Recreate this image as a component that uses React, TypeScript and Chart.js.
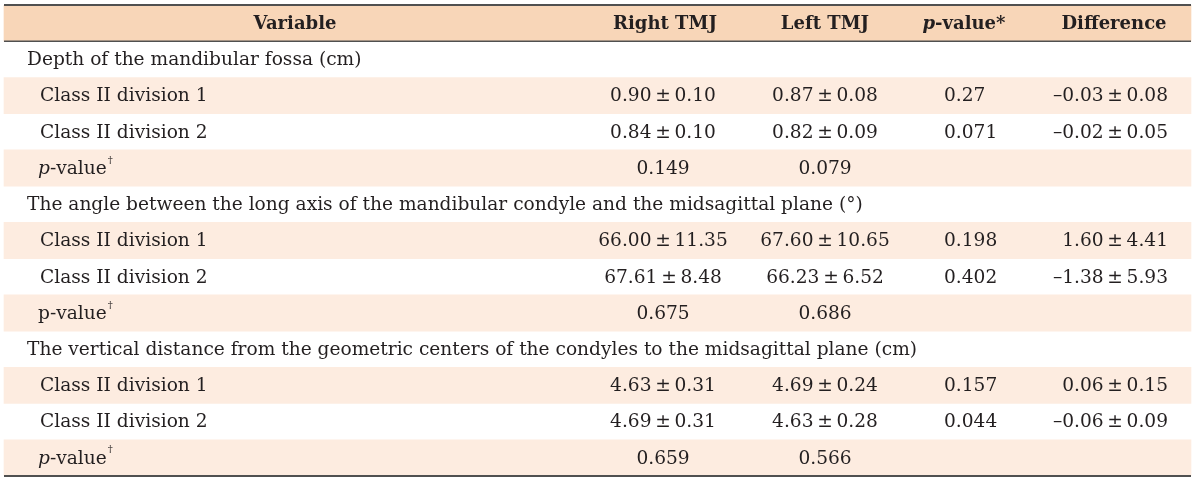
import React, { useEffect, useRef } from "react";
import { Chart, registerables } from "chart.js";

Chart.register(...registerables);

// ---- data ----
const headers = ["Variable", "Right TMJ", "Left TMJ", "_p_-value*", "Difference"];

// row kinds: "section" (group title), "group" (sub-row), "pv" (p-value row)
const rowKinds = [
  "section", "group", "group", "pv",
  "section", "group", "group", "pv",
  "section", "group", "group", "pv",
];
const variables = [
  "Depth of the mandibular fossa (cm)",
  "Class II division 1",
  "Class II division 2",
  "_p_-value^†",
  "The angle between the long axis of the mandibular condyle and the midsagittal plane (°)",
  "Class II division 1",
  "Class II division 2",
  "p-value^†",
  "The vertical distance from the geometric centers of the condyles to the midsagittal plane (cm)",
  "Class II division 1",
  "Class II division 2",
  "_p_-value^†",
];
const rightTMJ = ["", "0.90 ± 0.10", "0.84 ± 0.10", "0.149", "", "66.00 ± 11.35", "67.61 ± 8.48", "0.675", "", "4.63 ± 0.31", "4.69 ± 0.31", "0.659"];
const leftTMJ = ["", "0.87 ± 0.08", "0.82 ± 0.09", "0.079", "", "67.60 ± 10.65", "66.23 ± 6.52", "0.686", "", "4.69 ± 0.24", "4.63 ± 0.28", "0.566"];
const pValues = ["", "0.27", "0.071", "", "", "0.198", "0.402", "", "", "0.157", "0.044", ""];
const differences = ["", "–0.03 ± 0.08", "–0.02 ± 0.05", "", "", "1.60 ± 4.41", "–1.38 ± 5.93", "", "", "0.06 ± 0.15", "–0.06 ± 0.09", ""];

// ---- styles ----
const FONT = "'DejaVu Serif', serif";
const FS = 18.6;
const HFS = 18;
const TEXT = "#231f20";
const HEADER_BG = "#f8d6b8";
const SHADE_BG = "#fdece0";
const LINE = "#505050";
const BAND = [4, 1191];

type Seg = { t: string; it: boolean; sup: boolean };
function parse(s: string): Seg[] {
  const out: Seg[] = [];
  let it = false;
  let buf = "";
  let i = 0;
  const flush = (sup = false) => {
    if (buf) out.push({ t: buf, it, sup });
    buf = "";
  };
  while (i < s.length) {
    const c = s[i];
    if (c === "_") {
      flush();
      it = !it;
      i++;
    } else if (c === "^") {
      flush();
      buf = s.slice(i + 1);
      flush(true);
      i = s.length;
    } else {
      buf += c;
      i++;
    }
  }
  flush();
  return out;
}

function fontFor(seg: Seg, bold: boolean) {
  const size = seg.sup ? 10 : bold ? HFS : FS;
  return `${seg.it ? "italic " : ""}${bold ? "bold " : ""}${size}px ${FONT}`;
}

function drawRich(ctx: CanvasRenderingContext2D, raw: string, x: number, y: number, align: "left" | "center" | "right", bold: boolean) {
  const s = raw.replace(/ ± /g, "\u2009±\u2009");
  const segs = parse(s);
  let w = 0;
  const widths = segs.map((sg) => {
    ctx.font = fontFor(sg, bold);
    const m = ctx.measureText(sg.t).width;
    w += m;
    return m;
  });
  let cx = align === "left" ? x : align === "center" ? x - w / 2 : x - w;
  segs.forEach((sg, k) => {
    ctx.font = fontFor(sg, bold);
    ctx.textAlign = "left";
    ctx.textBaseline = "middle";
    ctx.fillStyle = TEXT;
    ctx.fillText(sg.t, cx + (sg.sup ? 1 : 0), sg.sup ? y - 8 : y + 1);
    cx += widths[k];
  });
}

const tablePlugin = {
  id: "tableText",
  afterDatasetsDraw(chart: any) {
    const ctx: CanvasRenderingContext2D = chart.ctx;
    const xs = chart.scales.x;
    const ys = chart.scales.y;
    const X = (v: number) => xs.getPixelForValue(v);
    ctx.save();
    // header
    const hy = ys.getPixelForValue(0);
    drawRich(ctx, headers[0], X(295), hy, "center", true);
    drawRich(ctx, headers[1], X(665), hy, "center", true);
    drawRich(ctx, headers[2], X(825), hy, "center", true);
    drawRich(ctx, headers[3], X(964), hy, "center", true);
    drawRich(ctx, headers[4], X(1114), hy, "center", true);
    // body
    variables.forEach((v, i) => {
      const y = ys.getPixelForValue(i + 1);
      const kind = rowKinds[i];
      const lx = kind === "section" ? 27 : kind === "pv" ? 38 : 40;
      drawRich(ctx, v, X(lx), y, "left", false);
      if (rightTMJ[i]) drawRich(ctx, rightTMJ[i], X(663), y, "center", false);
      if (leftTMJ[i]) drawRich(ctx, leftTMJ[i], X(825), y, "center", false);
      if (pValues[i]) drawRich(ctx, pValues[i], X(944), y, "left", false);
      if (differences[i]) drawRich(ctx, differences[i], X(1168), y, "right", false);
    });
    // rules
    const area = chart.chartArea;
    const hb = (ys.getPixelForValue(0) + ys.getPixelForValue(1)) / 2;
    ctx.strokeStyle = LINE;
    ctx.lineWidth = 2;
    ctx.beginPath();
    ctx.moveTo(X(BAND[0]), area.top);
    ctx.lineTo(X(BAND[1]), area.top);
    ctx.stroke();
    ctx.lineWidth = 1.5;
    ctx.beginPath();
    ctx.moveTo(X(BAND[0]), hb);
    ctx.lineTo(X(BAND[1]), hb);
    ctx.stroke();
    ctx.lineWidth = 2;
    ctx.beginPath();
    ctx.moveTo(X(BAND[0]), area.bottom);
    ctx.lineTo(X(BAND[1]), area.bottom);
    ctx.stroke();
    ctx.restore();
  },
};

export default function App() {
  const ref = useRef<HTMLCanvasElement | null>(null);
  useEffect(() => {
    document.body.style.margin = "0";
    const labels = ["header", ...variables.map((_, i) => String(i + 1))];
    const colors = labels.map((_, i) => (i === 0 ? HEADER_BG : i % 2 === 0 ? SHADE_BG : "rgba(255,255,255,0)"));
    const chart = new Chart(ref.current!, {
      type: "bar",
      data: {
        labels,
        datasets: [
          {
            data: labels.map(() => BAND as any),
            backgroundColor: colors,
            borderWidth: 0,
            barPercentage: 1,
            categoryPercentage: 1,
          },
        ],
      },
      options: {
        indexAxis: "y",
        animation: false,
        responsive: false,
        maintainAspectRatio: false,
        layout: { padding: { top: 5, bottom: 3, left: 0, right: 0 } },
        plugins: { legend: { display: false }, tooltip: { enabled: false } },
        scales: {
          x: { type: "linear", min: 0, max: 1200, display: false },
          y: { type: "category", display: false, offset: true },
        },
      },
      plugins: [tablePlugin],
    });
    return () => chart.destroy();
  }, []);
  return (
    <div style={{ width: 1200, height: 479, background: "#fff" }}>
      <canvas ref={ref} width={1200} height={479} style={{ display: "block" }} />
    </div>
  );
}
